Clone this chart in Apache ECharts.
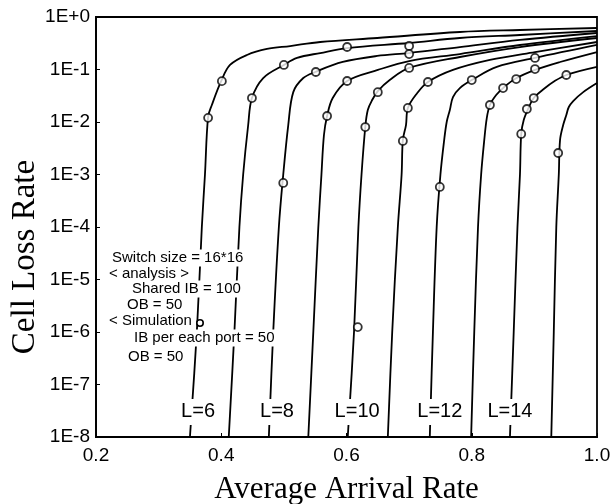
<!DOCTYPE html>
<html>
<head>
<meta charset="utf-8">
<script src="https://cdn.jsdelivr.net/npm/echarts@6/dist/echarts.min.js"></script>
<style>
  html, body { margin: 0; padding: 0; background: #fff; }
  #chart { width: 612px; height: 504px; }
</style>
</head>
<body>
<div id="chart"></div>
<script>
// Cell loss rate vs. average arrival rate, analysis curves for L = 6..15
const arrivalTicks = [0.2, 0.4, 0.6, 0.8, 1.0];

const curveL6 = [[0.350, 1e-8], [0.361, 1e-6], [0.369, 1e-4], [0.374, 1e-3], [0.379, 0.0125], [0.385, 0.0211],
  [0.400, 0.0604], [0.414, 0.122], [0.441, 0.189], [0.473, 0.246], [0.510, 0.280], [0.558, 0.334],
  [0.649, 0.398], [0.781, 0.518], [0.877, 0.565], [1.0, 0.617]];
const curveL7 = [[0.412, 1e-8], [0.421, 1e-6], [0.429, 1e-4], [0.435, 1e-3], [0.443, 0.00876], [0.449, 0.0286],
  [0.467, 0.0688], [0.500, 0.122], [0.521, 0.166], [0.558, 0.206], [0.601, 0.256], [0.700, 0.320],
  [0.781, 0.398], [0.877, 0.454], [1.0, 0.541]];
const curveL8 = [[0.476, 1e-8], [0.483, 1e-6], [0.492, 1e-4], [0.499, 1e-3], [0.507, 0.00876], [0.515, 0.0371],
  [0.531, 0.0688], [0.550, 0.0896], [0.594, 0.139], [0.649, 0.181], [0.700, 0.206], [0.781, 0.268],
  [0.877, 0.365], [1.0, 0.496]];
const curveL9 = [[0.539, 1e-8], [0.547, 1e-6], [0.555, 1e-4], [0.560, 1e-3], [0.564, 0.00566], [0.569, 0.013],
  [0.578, 0.0286], [0.601, 0.0604], [0.650, 0.098], [0.700, 0.145], [0.781, 0.197], [0.877, 0.293], [1.0, 0.434]];
const curveL10 = [[0.602, 1e-8], [0.612, 1e-6], [0.619, 1e-4], [0.624, 1e-3], [0.630, 0.00802], [0.634, 0.0169],
  [0.641, 0.0262], [0.650, 0.0388], [0.669, 0.063], [0.700, 0.107], [0.781, 0.173], [0.877, 0.268], [1.0, 0.398]];
const curveL11 = [[0.666, 1e-8], [0.673, 1e-6], [0.682, 1e-4], [0.688, 1e-3], [0.690, 0.00455], [0.695, 0.00876],
  [0.698, 0.0185], [0.713, 0.0356], [0.730, 0.0578], [0.770, 0.098], [0.829, 0.152], [0.901, 0.215], [1.0, 0.334]];
const curveL12 = [[0.733, 1e-8], [0.738, 1e-6], [0.744, 1e-4], [0.750, 1e-3], [0.756, 0.00455], [0.760, 0.01],
  [0.765, 0.0169], [0.770, 0.0299], [0.781, 0.0443], [0.800, 0.063], [0.840, 0.112], [0.901, 0.166], [1.0, 0.293]];
const curveL13 = [[0.799, 1e-8], [0.804, 1e-6], [0.810, 1e-4], [0.815, 1e-3], [0.820, 0.00455], [0.824, 0.0119],
  [0.829, 0.0211], [0.839, 0.0326], [0.850, 0.0443], [0.869, 0.0658], [0.901, 0.098], [0.941, 0.139], [1.0, 0.215]];
const curveL14 = [[0.861, 1e-8], [0.867, 1e-6], [0.873, 1e-4], [0.877, 1e-3], [0.879, 0.00592], [0.883, 0.0109],
  [0.890, 0.0177], [0.899, 0.0286], [0.917, 0.0443], [0.930, 0.0578], [0.951, 0.0786], [1.0, 0.112]];
const curveL15 = [[0.927, 1e-8], [0.931, 1e-6], [0.935, 1e-4], [0.939, 1e-3], [0.941, 0.00455], [0.946, 0.00876],
  [0.951, 0.0136], [0.955, 0.0193], [0.962, 0.0251], [0.978, 0.0371], [1.0, 0.0553]];

// Simulation results (open circles)
const simPoints = [[0.379, 0.012], [0.401, 0.060], [0.449, 0.0286], [0.500, 0.122], [0.499, 6.9e-4],
  [0.551, 0.0896], [0.569, 0.013], [0.601, 0.268], [0.601, 0.0604], [0.618, 1.24e-6], [0.630, 0.008],
  [0.650, 0.037], [0.700, 0.280], [0.700, 0.197], [0.700, 0.107], [0.690, 0.00436], [0.698, 0.0185],
  [0.730, 0.0578], [0.749, 5.8e-4], [0.800, 0.063], [0.829, 0.0211], [0.850, 0.0443], [0.871, 0.0658],
  [0.901, 0.166], [0.901, 0.102], [0.879, 0.00592], [0.888, 0.0177], [0.899, 0.0286], [0.951, 0.0786],
  [0.938, 0.00257]];

// Curve labels and where they sit (data coordinates)
const curveLabelText = ['L=6', 'L=8', 'L=10', 'L=12', 'L=14'];
const curveLabelX = [0.363, 0.489, 0.617, 0.749, 0.861];
const curveLabelY = 3e-8;

const noteLines = ['Switch size = 16*16', '< analysis >', 'Shared IB = 100', 'OB = 50',
  '< Simulation', 'IB per each port = 50', 'OB = 50'];

const curves = [curveL6, curveL7, curveL8, curveL9, curveL10, curveL11, curveL12, curveL13, curveL14, curveL15];

const chart = echarts.init(document.getElementById('chart'), null, { renderer: 'canvas' });

const series = curves.map((c, i) => ({
  type: 'line',
  name: 'L=' + (i + 6),
  data: c,
  smooth: 0.35,
  symbol: 'none',
  lineStyle: { color: '#000', width: 1.8 },
  z: 2
}));
series.push({
  type: 'scatter',
  name: 'Simulation',
  data: simPoints,
  symbol: 'circle',
  symbolSize: 8,
  itemStyle: { color: '#fff', borderColor: '#000', borderWidth: 1.8 },
  z: 5
});

const sansFont = 'Liberation Sans, Arial, sans-serif';
const serifFont = 'Liberation Serif, Times New Roman, serif';

chart.setOption({
  animation: false,
  backgroundColor: '#fff',
  grid: { left: 96, right: 15, top: 17, bottom: 67, containLabel: false, outerBoundsMode: 'none',
    show: true, borderColor: '#000', borderWidth: 1.8 },
  xAxis: {
    type: 'value',
    min: arrivalTicks[0],
    max: arrivalTicks[arrivalTicks.length - 1],
    interval: 0.2,
    name: 'Average Arrival Rate',
    nameLocation: 'middle',
    nameGap: 37,
    nameTextStyle: { fontFamily: serifFont, fontSize: 31, color: '#000' },
    axisLine: { lineStyle: { color: '#000', width: 1.8 } },
    axisTick: { inside: true, length: 4, lineStyle: { color: '#000' } },
    axisLabel: { fontFamily: sansFont, fontSize: 19, color: '#000', margin: 9,
      formatter: v => v.toFixed(1) },
    splitLine: { show: false }
  },
  yAxis: {
    type: 'log',
    logBase: 10,
    min: 1e-8,
    max: 1,
    splitNumber: 8,
    axisLine: { show: true, lineStyle: { color: '#000', width: 1.8 } },
    axisTick: { show: true, inside: true, length: 4, lineStyle: { color: '#000' } },
    axisLabel: { fontFamily: sansFont, fontSize: 19, color: '#000', margin: 6,
      formatter: v => {
        const e = Math.round(Math.log10(v));
        return '1E' + (e >= 0 ? '+' + e : String(e));
      } },
    splitLine: { show: false }
  },
  series: series
});

// Text overlays: axis title, curve labels and the parameter note
const graphics = [{
  type: 'text', x: 25, y: 257, rotation: Math.PI / 2, z: 100,
  style: { text: 'Cell Loss Rate', fontFamily: serifFont, fontSize: 33, fill: '#000',
    align: 'center', verticalAlign: 'middle' }
}];
curveLabelText.forEach((t, i) => {
  const p = chart.convertToPixel({ gridIndex: 0 }, [curveLabelX[i], curveLabelY]);
  graphics.push({
    type: 'text', x: p[0], y: p[1], z: 100,
    style: { text: t, fontFamily: sansFont, fontSize: 20, fill: '#000',
      align: 'center', verticalAlign: 'middle', backgroundColor: '#fff', padding: [3, 2] }
  });
});
const noteX = [110, 107, 130, 125, 107, 132, 126];
const noteY = [258, 274, 289, 305, 321, 338, 357];
noteLines.forEach((t, i) => {
  graphics.push({
    type: 'text', x: noteX[i], y: noteY[i], z: 100,
    style: { text: t, fontFamily: sansFont, fontSize: 15, fill: '#000',
      align: 'left', verticalAlign: 'middle', backgroundColor: '#fff', padding: [1, 2] }
  });
});
graphics.push({
  type: 'circle', z: 101,
  shape: { cx: 200, cy: 323, r: 3.2 },
  style: { fill: '#fff', stroke: '#000', lineWidth: 1.6 }
});
chart.setOption({ graphic: graphics });
</script>
</body>
</html>
